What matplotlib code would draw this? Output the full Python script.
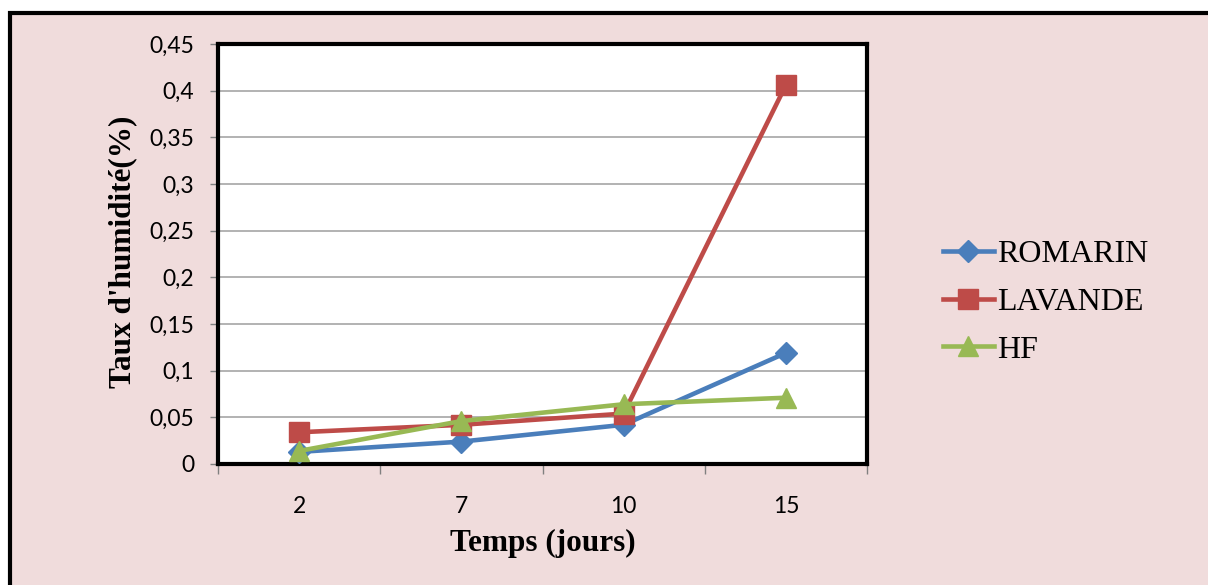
import matplotlib.pyplot as plt
from matplotlib.patches import Rectangle
import numpy as np

# data
days = ["2", "7", "10", "15"]
romarin = [0.013, 0.024, 0.042, 0.119]
lavande = [0.034, 0.042, 0.054, 0.406]
hf = [0.014, 0.046, 0.064, 0.071]
y_ticks = [0, 0.05, 0.1, 0.15, 0.2, 0.25, 0.3, 0.35, 0.4, 0.45]
y_labels = ["0", "0,05", "0,1", "0,15", "0,2", "0,25", "0,3", "0,35", "0,4", "0,45"]

PINK = "#F0DCDC"
W, H = 1208, 585

fig = plt.figure(figsize=(W / 100, H / 100), dpi=100)
fig.patch.set_facecolor("white")

# outer pink chart area with thick black frame (cut at right/bottom)
fig.patches.append(Rectangle((10 / W, -0.1), 1.2, 1 - 13 / H + 0.1,
                             transform=fig.transFigure, facecolor=PINK,
                             edgecolor="black", linewidth=3, zorder=-5))

ax = fig.add_axes([218 / W, 1 - 464 / H, 649 / W, 420 / H])
ax.set_zorder(2)
ax.set_facecolor("white")

x = np.arange(len(days))
ax.plot(x, romarin, color="#4A7EBB", lw=3.3, marker="D", ms=11, label="ROMARIN", zorder=3)
ax.plot(x, lavande, color="#BE4B48", lw=3.3, marker="s", ms=14, label="LAVANDE", zorder=4)
ax.plot(x, hf, color="#98B954", lw=3.3, marker="^", ms=15, label="HF", zorder=5)

ax.set_ylim(0, 0.45)
ax.set_xlim(-0.5, 3.5)
ax.set_yticks(y_ticks)
ax.set_yticklabels(y_labels)
ax.set_xticks(x)
ax.set_xticklabels(days)
ax.set_xticks(np.arange(-0.5, 4, 1), minor=True)

for v in y_ticks[1:]:
    ax.axhline(v, color="#A6A6A6", lw=1.2, zorder=1)

for s in ax.spines.values():
    s.set_linewidth(3)
    s.set_color("black")

ax.tick_params(axis="y", length=6, width=1, color="#808080", pad=11,
               labelsize=16.5, labelfontfamily="Lato")
ax.tick_params(axis="x", which="major", length=0, pad=23,
               labelsize=16.5, labelfontfamily="Lato")
ax.tick_params(axis="x", which="minor", length=7, width=1, color="#808080")

fig.text(543 / W, 1 - 543 / H, "Temps (jours)", ha="center", va="center",
         fontsize=22.5, fontweight="bold", family="Liberation Serif")
fig.text(123 / W, 1 - 252 / H, "Taux d'humidité(%)", ha="center", va="center",
         rotation=90, fontsize=22.5, fontweight="bold", family="Liberation Serif")

fig.legend(loc="center left", bbox_to_anchor=(914 / W, 1 - 302 / H),
           frameon=False, handlelength=1.6, handletextpad=0.1, labelspacing=0.58,
           prop={"family": "Liberation Serif", "size": 23})

fig.savefig("out.png", dpi=100, facecolor=fig.get_facecolor())
